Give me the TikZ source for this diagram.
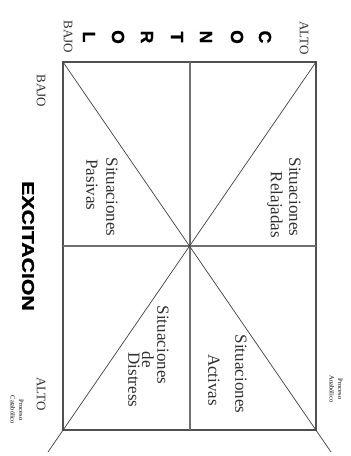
\documentclass[tikz,border=0pt]{standalone}
\usepackage{fontspec}
\usepackage{graphicx}
\setmainfont{Liberation Serif}
\newfontfamily\hfont[BoldFeatures={FakeBold=1.2}]{Liberation Sans}
\definecolor{framec}{HTML}{505050}
\definecolor{midc}{HTML}{707070}
\definecolor{diagc}{HTML}{404040}
\definecolor{textc}{HTML}{303030}
\begin{document}
\begin{tikzpicture}[x=1pt,y=-1pt,
  frame/.style={draw=framec,line width=1.1pt},
  midline/.style={draw=midc,line width=1.5pt},
  diag/.style={draw=diagc,line width=0.7pt},
  lbl/.style={rotate=-90,inner sep=0pt,text=textc,font=\fontsize{17}{20}\selectfont},
  axislbl/.style={rotate=-90,inner sep=0pt,text=textc,font=\fontsize{13}{15}\selectfont},
  tinylbl/.style={rotate=-90,inner sep=0pt,align=center,font=\fontsize{6.5}{8.5}\selectfont},
  letter/.style={rotate=-90,inner sep=0pt,font=\hfont\bfseries\fontsize{17.5}{20}\selectfont},
  title/.style={rotate=-90,inner sep=0pt,font=\hfont\bfseries\fontsize{17}{20}\selectfont}]
\useasboundingbox[fill=white] (0,0) rectangle (351,456);
% frame corners
\coordinate (TL) at (63,62);
\coordinate (TR) at (316,62);
\coordinate (BL) at (63,430);
\coordinate (BR) at (316,430);
\coordinate (TM) at (190,62);
\coordinate (BM) at (190,430);
\coordinate (LM) at (63,246);
\coordinate (RM) at (316,246);
\coordinate (BRX) at (331,452);
\coordinate (BLX) at (48,452);
\draw[frame] (TL) rectangle (BR);
\draw[midline] (TM) -- (BM);
\draw[midline] (LM) -- (RM);
\draw[diag] (TL) -- (BRX);
\draw[diag] (TR) -- (BLX);
% quadrant texts
\node[lbl] (relS) at (295,197) {Situaciones};
\node[lbl] (relR) at (275,205) {Relajadas};
\node[lbl] (pasS) at (112,197) {Situaciones};
\node[lbl] (pasP) at (92,185) {Pasivas};
\node[lbl] (actS) at (241,374) {Situaciones};
\node[lbl] (actA) at (214,380) {Activas};
\node[lbl] (disS) at (163,345) {Situaciones};
\node[lbl] (disD) at (148,360) {de};
\node[lbl] (disT) at (134,380) {Distress};
% axis labels
\node[axislbl] (altoT) at (304,38) {ALTO};
\node[axislbl] (bajoT) at (68,37) {BAJO};
\node[axislbl] (bajoL) at (41,91) {BAJO};
\node[axislbl] (altoL) at (41,394) {ALTO};
\node[title] (exc) at (28,246) {\scalebox{1.25}[1]{EXCITACION}};
% CONTROL
\node[letter] (c1) at (265,37) {C};
\node[letter] (c2) at (237,37) {O};
\node[letter] (c3) at (206,37) {N};
\node[letter] (c4) at (177,37) {T};
\node[letter] (c5) at (147,37) {R};
\node[letter] (c6) at (118,37) {O};
\node[letter] (c7) at (89,37) {L};
% process labels
\node[tinylbl] (anab) at (336,389) {Proceso\\Anabólico};
\node[tinylbl] (catab) at (17,410) {Proceso\\Catabólico};
\end{tikzpicture}
\end{document}
